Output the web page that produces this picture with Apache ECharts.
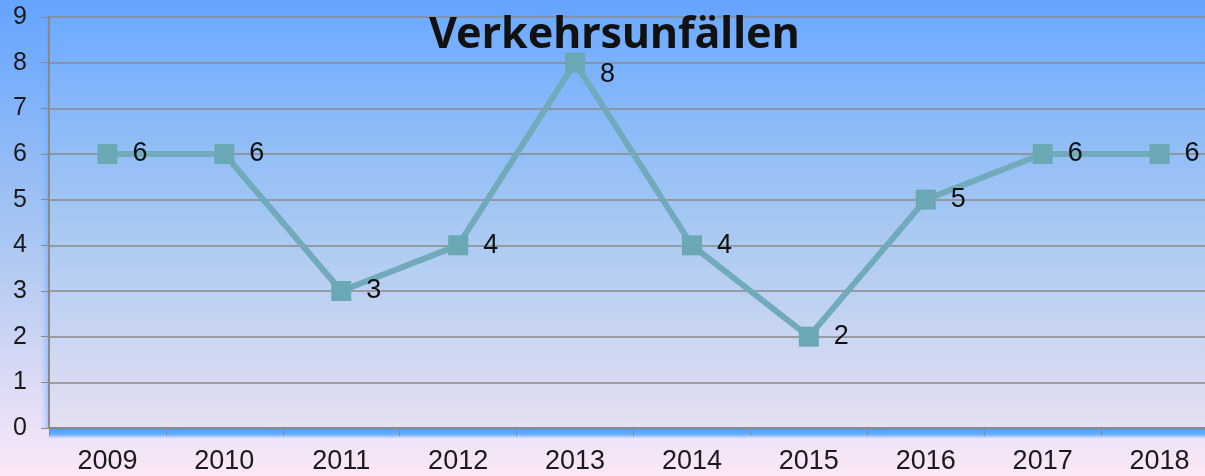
<!DOCTYPE html>
<html><head><meta charset="utf-8">
<script src="https://cdn.jsdelivr.net/npm/echarts@6/dist/echarts.min.js"></script>
<style>html,body{margin:0;padding:0;}#c{width:1205px;height:476px;}</style>
</head><body><div id="c"></div>
<script>
const categories = ['2009','2010','2011','2012','2013','2014','2015','2016','2017','2018'];
const values = [6, 6, 3, 4, 8, 4, 2, 5, 6, 6];
const yTicks = [0,1,2,3,4,5,6,7,8,9];
const titleText = 'Verkehrsunfällen';

const chart = echarts.init(document.getElementById('c'));
const seriesData = values.map((v, i) => i === 4 ? {value: v, label: {offset: [0, 12]}} : v);
const option = {
  animation: false,
  backgroundColor: {type:'linear', x:0,y:0,x2:0,y2:1, colorStops:[
    {offset:0,color:'#64a4ff'},{offset:0.5,color:'#a9c6f2'},{offset:1,color:'#fce8f8'}]},
  title: {text: titleText, left: 429, top: 14, padding: 0,
    textStyle:{fontFamily:'Noto Sans', fontWeight:'bold', fontSize:43, color:'#111'}},
  grid: {left: 49, width: 1169, top: 17, bottom: 48, show: true, borderWidth: 0,
    outerBoundsMode: 'none', containLabel: false,
    backgroundColor: {type:'linear', x:0,y:0,x2:0,y2:1, colorStops:[
      {offset:0,color:'#6eabff'},{offset:0.5,color:'#a6c8f2'},{offset:1,color:'#e6e0f2'}]}},
  xAxis: {type:'category', data: categories, boundaryGap: true,
    axisLine:{lineStyle:{color:'#8a8a8a', width:2}},
    axisTick:{show:true, length:8, lineStyle:{color:'#8a8a8a'}},
    axisLabel:{fontFamily:'Liberation Sans', fontSize:27, color:'#1a1a1a', margin:20}},
  yAxis: {type:'value', min:0, max:9, interval:1,
    axisLine:{show:true, lineStyle:{color:'#8a8a8a', width:2}},
    axisTick:{show:true, length:8, lineStyle:{color:'#8a8a8a'}},
    splitLine:{lineStyle:{color:'#8a8a8a', width:1.5}},
    axisLabel:{fontFamily:'Liberation Sans', fontSize:25, color:'#1a1a1a', margin:22,
      formatter: v => yTicks.includes(v) ? String(v) : ''}},
  graphic: [{type:'rect', left:49, top:429, shape:{width:1160, height:9},
    style:{fill:{type:'linear',x:0,y:0,x2:0,y2:1,colorStops:[{offset:0,color:'#4aa0ff'},{offset:0.6,color:'#66b0ff'},{offset:1,color:'rgba(150,195,255,0.3)'}]}}, z:-1},
    {type:'rect', left:41, top:17, shape:{width:8, height:412},
    style:{fill:{type:'linear',x:0,y:0,x2:1,y2:0,colorStops:[{offset:0,color:'rgba(120,180,255,0)'},{offset:1,color:'rgba(90,160,255,0.5)'}]}}, z:-1}],
  series: [{type:'line', data: seriesData, symbol:'rect', symbolSize:20,
    lineStyle:{color:'#71abbb', width:6},
    itemStyle:{color:'#6aa8b6'},
    label:{show:true, position:'right', distance:15, fontFamily:'Liberation Sans', fontSize:27, color:'#111'}}]
};
chart.setOption(option);
</script></body></html>
